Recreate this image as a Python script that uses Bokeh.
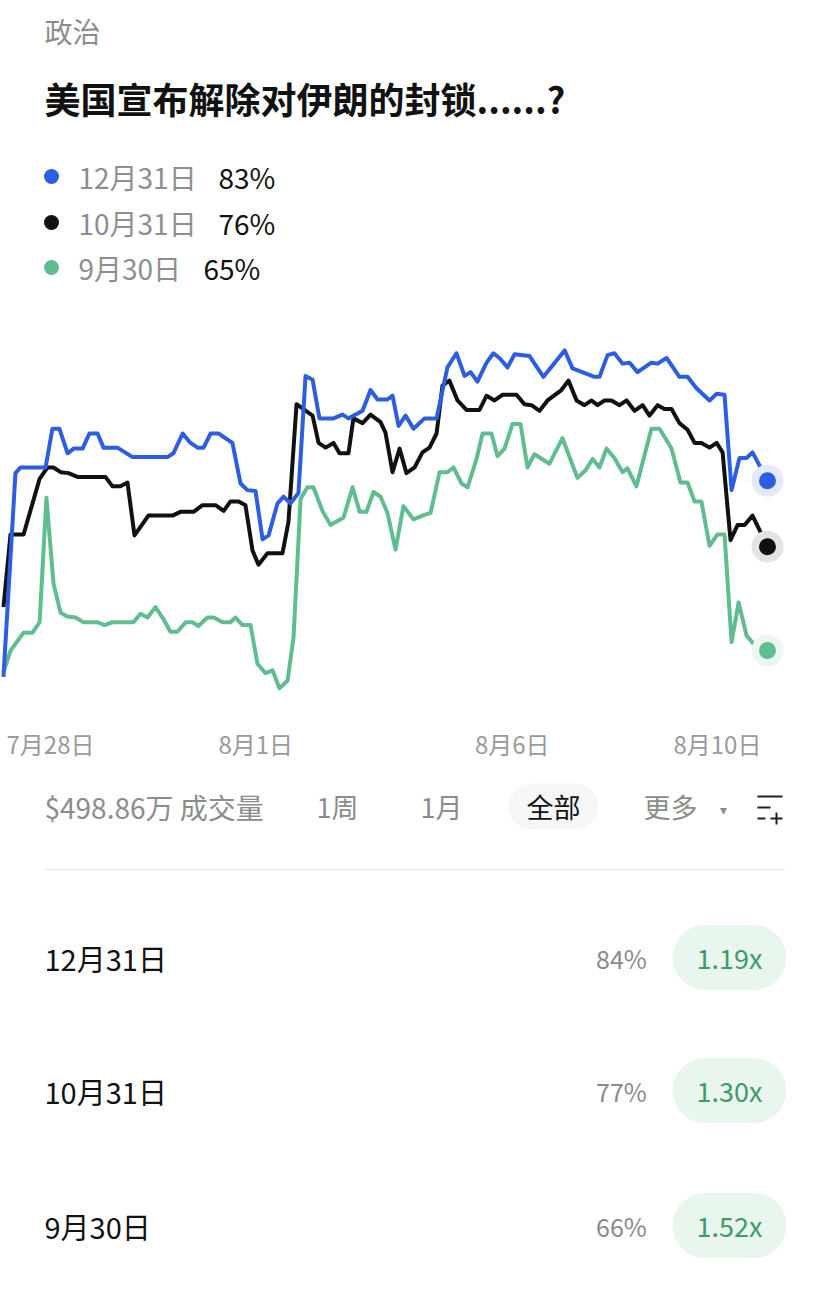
from bokeh.plotting import figure
from bokeh.layouts import column
from bokeh.models import Range1d, FixedTicker
from bokeh.core.properties import value
from bokeh.embed import file_html
from bokeh.resources import INLINE

FONT = "Noto Sans CJK SC"

# ---------------- data ----------------
category = "政治"
title_text = "美国宣布解除对伊朗的封锁......?"

series_names = ["12月31日", "10月31日", "9月30日"]
series_current = ["83%", "76%", "65%"]
series_colors = ["#2d5de0", "#111111", "#5fbd8f"]
halo_colors = ["#e4eafb", "#e4e4e4", "#edf7f1"]

# hours since 27 Jul 00:00, chance in %
blue_hours = [2.0, 7.6, 10.0, 21.7, 24.9, 28.2, 32.0, 34.8, 39.0, 42.2, 46.0, 48.8, 55.3, 62.4, 78.7,
              81.5, 85.8, 89.5, 92.8, 95.6, 98.9, 102.6, 109.1, 112.9, 116.1, 119.9, 123.2, 126.0, 130.2, 133.0,
              136.3, 140.0, 143.3, 146.6, 149.8, 156.4, 160.6, 163.4, 170.0, 173.7, 177.0, 181.6, 184.0, 186.8, 190.1,
              193.8, 199.0, 204.6, 209.7, 213.9, 217.7, 220.5, 223.7, 228.0, 231.2, 234.0, 237.8, 241.1, 248.1, 254.6,
              264.5, 268.2, 278.5, 280.8, 284.6, 287.8, 291.6, 294.9, 298.6, 305.1, 308.0, 312.2, 318.2, 322.0, 326.2,
              332.3, 335.6, 339.3, 342.6, 346.3, 349.6, 352.4, 359.4]
blue_vals = [62.2, 83.8, 84.4, 84.4, 88.5, 88.5, 85.9, 86.4, 86.4, 88.0, 88.0, 86.5, 86.5, 85.5, 85.5,
             85.9, 88.0, 87.0, 86.5, 86.5, 88.0, 88.0, 87.0, 82.7, 82.0, 81.9, 76.8, 77.2, 80.6, 81.3,
             80.6, 81.7, 94.1, 93.7, 89.6, 89.6, 90.0, 89.6, 90.4, 92.6, 91.6, 91.6, 92.0, 88.8, 89.9,
             88.5, 89.6, 89.6, 95.0, 96.5, 94.1, 94.5, 93.5, 95.5, 96.5, 96.0, 95.0, 96.4, 96.2, 94.0,
             96.8, 94.9, 94.0, 94.0, 96.3, 96.5, 95.4, 95.5, 94.5, 95.5, 95.4, 96.0, 94.0, 94.0, 92.8,
             91.5, 92.2, 92.1, 82.0, 85.4, 85.4, 86.0, 83.0]

black_hours = [2.0, 5.3, 11.4, 15.6, 18.9, 22.6, 25.4, 28.7, 32.4, 36.6, 49.7, 53.0, 56.7, 60.0, 63.3,
               69.8, 81.1, 84.8, 90.9, 95.1, 101.2, 105.0, 108.2, 112.0, 115.2, 118.5, 121.3, 125.5, 132.5, 135.3,
               139.1, 146.6, 149.4, 152.7, 156.4, 159.2, 163.4, 165.7, 170.0, 173.7, 178.4, 180.7, 184.0, 187.3, 190.5,
               194.3, 198.0, 201.3, 204.6, 207.4, 210.6, 214.4, 218.6, 224.7, 228.0, 231.7, 235.4, 242.0, 245.7, 249.0,
               252.8, 256.5, 263.0, 266.3, 270.1, 273.8, 277.1, 279.9, 283.2, 286.4, 290.2, 293.5, 297.2, 301.0, 304.2,
               308.0, 311.2, 314.5, 318.2, 322.0, 325.3, 328.5, 332.3, 335.6, 338.4, 342.1, 345.4, 348.7, 352.4, 359.4]
black_vals = [69.6, 77.3, 77.3, 80.6, 83.2, 84.4, 84.4, 83.9, 83.8, 83.4, 83.4, 82.4, 82.4, 82.8, 77.2,
              79.3, 79.3, 79.7, 79.7, 80.4, 80.4, 79.8, 80.8, 80.8, 80.4, 75.6, 74.1, 75.3, 75.3, 78.6,
              91.1, 89.9, 87.0, 86.5, 87.0, 85.9, 85.9, 89.6, 89.1, 90.0, 89.2, 88.1, 83.9, 86.4, 83.8,
              84.4, 86.0, 86.5, 88.0, 93.1, 93.6, 91.5, 90.5, 90.5, 92.0, 91.5, 92.1, 92.1, 91.1, 91.0,
              90.4, 91.5, 92.6, 93.6, 91.5, 91.0, 91.5, 91.0, 91.5, 91.5, 91.0, 91.5, 90.4, 91.0, 89.9,
              91.0, 90.6, 90.6, 89.1, 88.4, 87.0, 87.0, 86.5, 87.0, 86.0, 76.7, 78.3, 78.3, 79.3, 76.0]

green_hours = [2.0, 5.3, 11.4, 15.6, 18.9, 22.1, 25.4, 28.7, 32.0, 35.7, 39.4, 46.0, 49.3, 53.0, 62.8,
               66.1, 69.4, 73.1, 76.4, 80.1, 83.4, 87.2, 90.4, 93.2, 97.4, 100.3, 104.5, 108.2, 110.5, 113.8,
               117.6, 120.8, 124.6, 127.9, 131.1, 134.9, 137.7, 141.0, 144.2, 147.0, 151.2, 155.0, 161.1, 165.3, 168.6,
               171.8, 175.1, 178.4, 181.6, 185.4, 189.1, 193.8, 198.0, 201.8, 206.0, 209.7, 212.5, 216.3, 219.1, 223.3,
               226.1, 230.3, 233.1, 236.4, 240.1, 243.9, 247.1, 250.4, 257.4, 263.5, 270.5, 274.3, 277.6, 280.8, 284.1,
               287.8, 291.6, 293.9, 298.1, 305.1, 308.9, 314.5, 318.7, 322.0, 325.3, 328.5, 332.3, 336.0, 339.3, 342.6,
               345.9, 349.6, 353.3, 359.4]
green_vals = [62.7, 65.0, 66.9, 66.9, 68.0, 81.2, 72.1, 69.0, 68.6, 68.5, 68.0, 68.0, 67.7, 68.0, 68.0,
              68.9, 68.5, 69.6, 68.5, 67.0, 67.0, 68.0, 68.0, 67.6, 68.5, 68.5, 68.0, 68.0, 68.5, 67.7,
              67.7, 63.6, 62.6, 62.9, 61.0, 61.8, 66.4, 81.1, 82.3, 82.3, 79.8, 78.3, 79.1, 82.3, 79.7,
              79.7, 81.8, 81.3, 79.6, 75.7, 80.3, 78.9, 79.3, 79.6, 83.9, 83.9, 84.4, 82.7, 82.3, 85.3,
              88.0, 88.0, 85.6, 86.4, 89.0, 89.0, 84.4, 85.8, 84.8, 87.5, 83.3, 84.1, 85.3, 84.4, 86.4,
              85.4, 83.9, 84.3, 82.4, 88.5, 88.5, 86.4, 82.8, 82.8, 80.8, 80.8, 76.1, 77.3, 77.3, 65.9,
              70.1, 66.6, 65.6, 65.0]

tick_hours = [24, 120, 240, 336]
tick_labels = ["7月28日", "8月1日", "8月6日", "8月10日"]

volume_text = "$498.86万 成交量"
period_labels = ["1周", "1月", "全部", "更多"]

row_labels = ["12月31日", "10月31日", "9月30日"]
row_pcts = ["84%", "77%", "66%"]
row_mults = ["1.19x", "1.30x", "1.52x"]

# ---------------- helpers ----------------
W = 820


def blank(h, top, bottom):
    p = figure(width=W, height=h, x_range=Range1d(0, W), y_range=Range1d(bottom, top),
               output_backend="svg", toolbar_location=None, min_border=0,
               x_axis_location=None, y_axis_location=None)
    p.grid.visible = False
    p.outline_line_color = None
    p.background_fill_color = "white"
    p.border_fill_color = "white"
    return p


def txt(p, x, y, s, size, color, align="left", style="normal"):
    p.text(x=[x], y=[y], text=[s], text_font=value(FONT), text_font_size=size,
           text_color=color, text_align=align, text_baseline="middle", text_font_style=style)


# ---------------- header ----------------
ph = blank(300, 0, 300)
txt(ph, 44, 30, category, "28px", "#8c8c8c")
txt(ph, 44, 97, title_text, "36px", "#111111", style="bold")
leg_y = [176, 222, 267]
val_x = [218, 218, 203]
ph.scatter(x=[51, 51, 51], y=leg_y, size=15, color=series_colors, line_color=None)
for i in range(3):
    txt(ph, 78, leg_y[i], series_names[i], "28px", "#8e8e8e")
    txt(ph, val_x[i], leg_y[i], series_current[i], "28px", "#111111")

# ---------------- chart ----------------
pc = figure(width=W, height=475, x_range=Range1d(0.61, 384.2), y_range=Range1d(58.12, 102.09),
            output_backend="svg", toolbar_location=None, min_border=0, min_border_bottom=60,
            y_axis_location=None)
pc.grid.visible = False
pc.outline_line_color = None
pc.xaxis.ticker = FixedTicker(ticks=tick_hours)
pc.xaxis.major_label_overrides = dict(zip(tick_hours, tick_labels))
pc.xaxis.axis_line_color = None
pc.xaxis.major_tick_line_color = None
pc.xaxis.minor_tick_line_color = None
pc.xaxis.major_tick_out = 0
pc.xaxis.major_label_standoff = 10
pc.xaxis.major_label_text_font = FONT
pc.xaxis.major_label_text_font_size = "24px"
pc.xaxis.major_label_text_color = "#9a9a9a"

all_series = [(green_hours, green_vals, 2), (black_hours, black_vals, 1), (blue_hours, blue_vals, 0)]
for hrs, vals, ci in all_series:
    pc.line(hrs, vals, line_width=4, color=series_colors[ci], line_join="round")
for hrs, vals, ci in all_series:
    pc.scatter([hrs[-1]], [vals[-1]], size=32, color=halo_colors[ci], line_color=None)
    pc.scatter([hrs[-1]], [vals[-1]], size=17, color=series_colors[ci], line_color=None)

# ---------------- bottom ----------------
pb = blank(520, 775, 1295)
txt(pb, 44, 806, volume_text, "28px", "#8c8c8c")
txt(pb, 337, 806, period_labels[0], "27px", "#8c8c8c", align="center")
txt(pb, 441, 806, period_labels[1], "27px", "#8c8c8c", align="center")
# selected pill
pb.rect(x=[553], y=[806], width=44, height=46, color="#f6f6f6", line_color=None)
pb.circle(x=[531, 575], y=[806, 806], radius=23, color="#f6f6f6", line_color=None)
txt(pb, 553, 806, period_labels[2], "27px", "#111111", align="center")
txt(pb, 643, 806, period_labels[3], "27px", "#8c8c8c")
txt(pb, 723, 808, "▾", "14px", "#8c8c8c", align="center")
# filter icon
pb.segment(x0=[757, 757, 757, 770, 776], y0=[796, 807, 818, 818, 812],
           x1=[782, 770, 765, 782, 776], y1=[796, 807, 818, 818, 824],
           line_color="#222222", line_width=2)
# separator
pb.segment(x0=[44], y0=[869], x1=[784], y1=[869], line_color="#f0f0f0", line_width=2)

row_y = [957, 1090, 1225]
for i in range(3):
    txt(pb, 44, row_y[i], row_labels[i], "29px", "#111111")
    txt(pb, 621, row_y[i], row_pcts[i], "25px", "#8a8a8a", align="center")
    pb.rect(x=[729], y=[row_y[i]], width=49, height=65, color="#e8f6ee", line_color=None)
    pb.circle(x=[704.5, 753.5], y=[row_y[i], row_y[i]], radius=32.5, color="#e8f6ee", line_color=None)
    txt(pb, 729, row_y[i], row_mults[i], "27px", "#3f9a6b", align="center")

layout = column(ph, pc, pb, spacing=0)
open("out.html", "w").write(file_html(layout, INLINE))
